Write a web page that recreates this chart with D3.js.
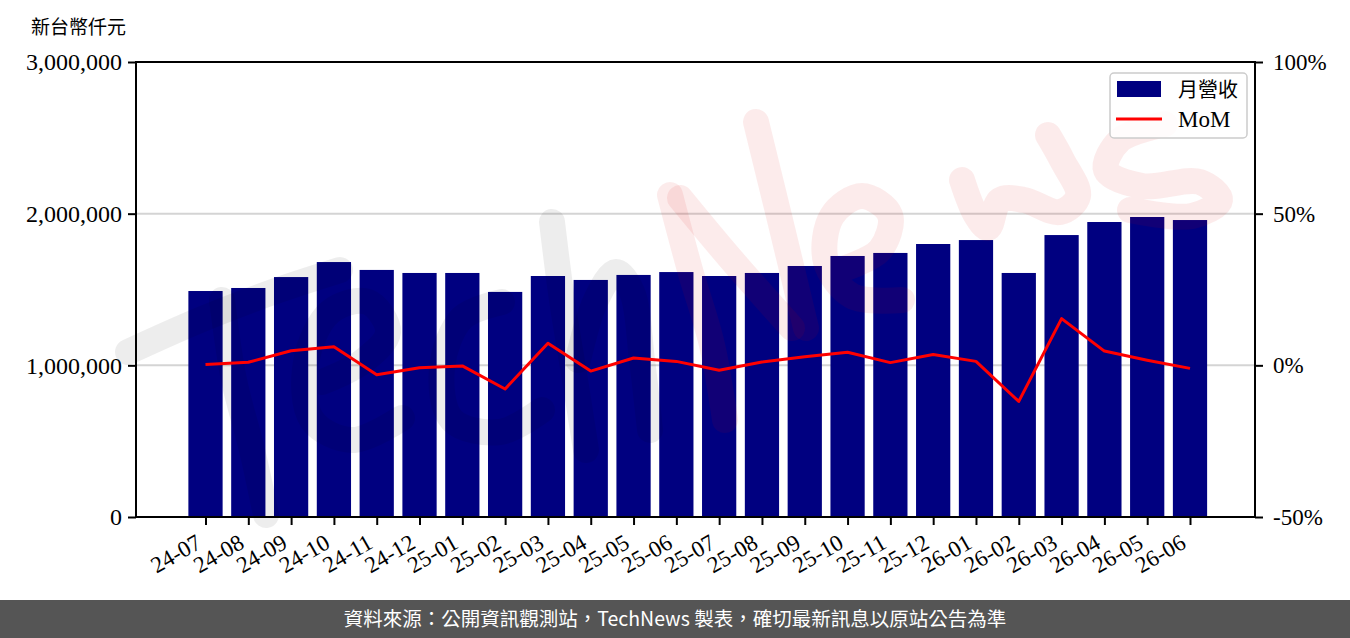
<!DOCTYPE html>
<html>
<head>
  <meta charset="utf-8">
  <title>月營收與 MoM</title>
  <style>
  body {
    margin: 0px;
    background: #fff;
  }
  </style>
</head>
<body>
  <svg width="1350" height="638"></svg>
  <script src="https://d3js.org/d3.v7.min.js"></script>
  <script>
  // data
  var months = ["24-07", "24-08", "24-09", "24-10", "24-11", "24-12",
    "25-01", "25-02", "25-03", "25-04", "25-05", "25-06",
    "25-07", "25-08", "25-09", "25-10", "25-11", "25-12",
    "26-01", "26-02", "26-03", "26-04", "26-05", "26-06"];
  var revenue = [1490000, 1510000, 1582000, 1681000, 1629000, 1609000,
    1609000, 1484000, 1589000, 1563000, 1596000, 1615000,
    1589000, 1609000, 1655000, 1721000, 1741000, 1800000,
    1826000, 1609000, 1859000, 1945000, 1978000, 1958000];
  var mom = [0.3, 1.0, 4.8, 6.1, -3.1, -0.8,
    -0.2, -7.8, 7.3, -1.9, 2.4, 1.3,
    -1.6, 1.1, 2.8, 4.3, 0.9, 3.6,
    1.3, -11.9, 15.4, 4.7, 1.7, -1.0];
  var leftTicks = [0, 1000000, 2000000, 3000000];
  var rightTicks = [-50, 0, 50, 100];

  var svg = d3.select("svg");
  var plotL = 136, plotR = 1255, plotT = 62, plotB = 517;

  var x = d3.scaleLinear().domain([0, months.length - 1]).range([205.5, 1190]);
  var step = x(1) - x(0);
  var y = d3.scaleLinear().domain([0, 3000000]).range([plotB, plotT]);
  var y2 = d3.scaleLinear().domain([-50, 100]).range([plotB, plotT]);

  // title
  svg.append("text")
    .attr("x", 31)
    .attr("y", 34)
    .attr("font-family", "'Noto Sans CJK TC', sans-serif")
    .attr("font-size", 19)
    .text("新台幣仟元");

  // grid
  svg.append("g")
    .selectAll("line")
    .data(leftTicks.slice(1, 3))
    .enter()
    .append("line")
    .attr("x1", plotL)
    .attr("x2", plotR)
    .attr("y1", function(d) { return y(d); })
    .attr("y2", function(d) { return y(d); })
    .attr("stroke", "#d4d4d4")
    .attr("stroke-width", 2);

  // bars
  svg.append("g")
    .selectAll("rect")
    .data(revenue)
    .enter()
    .append("rect")
    .attr("x", function(d, i) { return x(i) - step * 0.4; })
    .attr("width", step * 0.8)
    .attr("y", function(d) { return y(d); })
    .attr("height", function(d) { return plotB - y(d); })
    .attr("fill", "#000080");

  // watermark (handwritten TechNews, faint)
  var wm = svg.append("g").attr("fill", "none")
    .attr("stroke-linecap", "round").attr("stroke-linejoin", "round")
    .attr("stroke-width", 26);
  var stroke = d3.line().curve(d3.curveCatmullRom);
  var grayStrokes = [
    [[128, 352], [200, 320], [270, 293], [340, 270]],
    [[222, 300], [234, 380], [252, 450], [266, 515]],
    [[322, 382], [362, 362], [388, 332], [368, 302], [330, 312], [306, 362], [312, 420], [352, 440], [402, 418]],
    [[502, 302], [462, 318], [442, 368], [452, 420], [500, 432], [542, 410]],
    [[552, 222], [562, 300], [575, 380], [586, 450]],
    [[578, 360], [596, 300], [616, 272], [632, 292], [642, 360], [650, 430]]
  ];
  var pinkStrokes = [
    [[670, 195], [690, 270], [712, 345], [725, 420]],
    [[680, 198], [730, 258], [792, 328]],
    [[756, 122], [780, 220], [806, 328]],
    [[840, 270], [880, 250], [890, 215], [862, 196], [832, 216], [826, 262], [852, 296], [902, 300]],
    [[962, 180], [976, 215], [988, 228], [1000, 200], [1024, 200], [1060, 212], [1078, 196], [1062, 160], [1048, 135]],
    [[1165, 124], [1120, 140], [1106, 170], [1142, 186], [1200, 182], [1220, 200], [1192, 216], [1130, 210]]
  ];
  wm.selectAll(".wm-gray").data(grayStrokes).enter().append("path")
    .attr("class", "wm-gray")
    .attr("d", stroke)
    .attr("stroke", "rgba(0,0,0,0.07)");
  wm.selectAll(".wm-pink").data(pinkStrokes).enter().append("path")
    .attr("class", "wm-pink")
    .attr("d", stroke)
    .attr("stroke", "rgba(220,0,0,0.08)");

  // MoM line
  svg.append("path")
    .datum(mom)
    .attr("fill", "none")
    .attr("stroke", "#ff0000")
    .attr("stroke-width", 3)
    .attr("stroke-linejoin", "round")
    .attr("d", d3.line()
      .x(function(d, i) { return x(i); })
      .y(function(d) { return y2(d); }));

  // axes
  var fmt = d3.format(",");
  var leftAxis = svg.append("g")
    .attr("transform", "translate(" + plotL + ",0)")
    .call(d3.axisLeft(y).tickValues(leftTicks).tickFormat(fmt).tickSizeOuter(0).tickSize(8).tickPadding(6));
  var rightAxis = svg.append("g")
    .attr("transform", "translate(" + plotR + ",0)")
    .call(d3.axisRight(y2).tickValues(rightTicks).tickFormat(function(d) { return d + "%"; })
      .tickSizeOuter(0).tickSize(8).tickPadding(10));
  var bottomAxis = svg.append("g")
    .attr("transform", "translate(0," + plotB + ")")
    .call(d3.axisBottom(x).tickValues(d3.range(months.length))
      .tickFormat(function(i) { return months[i]; }).tickSizeOuter(0).tickSize(8));

  [leftAxis, rightAxis, bottomAxis].forEach(function(a) {
    a.select(".domain").remove();
    a.selectAll(".tick line").attr("stroke", "#000").attr("stroke-width", 2);
    a.selectAll(".tick text")
      .attr("fill", "#000")
      .attr("font-size", 23)
      .attr("font-family", "'Liberation Serif', serif");
  });
  leftAxis.selectAll(".tick text").attr("font-size", 24);

  bottomAxis.selectAll(".tick text")
    .attr("font-size", 23)
    .attr("y", 0)
    .attr("dy", 0)
    .attr("text-anchor", "end")
    .attr("transform", "translate(-3,30) rotate(-30)");

  // frame
  svg.append("rect")
    .attr("x", plotL)
    .attr("y", plotT)
    .attr("width", plotR - plotL)
    .attr("height", plotB - plotT)
    .attr("fill", "none")
    .attr("stroke", "#000")
    .attr("stroke-width", 2);

  // legend
  var lg = svg.append("g");
  lg.append("rect")
    .attr("x", 1110).attr("y", 73)
    .attr("width", 137).attr("height", 65)
    .attr("rx", 4)
    .attr("fill", "rgba(255,255,255,0.85)")
    .attr("stroke", "#cccccc")
    .attr("stroke-width", 1.5);
  lg.append("rect")
    .attr("x", 1117).attr("y", 81)
    .attr("width", 44).attr("height", 16)
    .attr("fill", "#000080");
  lg.append("line")
    .attr("x1", 1116).attr("x2", 1162)
    .attr("y1", 119).attr("y2", 119)
    .attr("stroke", "#ff0000")
    .attr("stroke-width", 3);
  lg.append("text")
    .attr("x", 1178).attr("y", 97)
    .attr("font-family", "'Noto Sans CJK TC', sans-serif")
    .attr("font-size", 20)
    .text("月營收");
  lg.append("text")
    .attr("x", 1178).attr("y", 127)
    .attr("font-family", "'Liberation Serif', serif")
    .attr("font-size", 23)
    .text("MoM");

  // footer
  svg.append("rect")
    .attr("x", 0).attr("y", 600)
    .attr("width", 1350).attr("height", 38)
    .attr("fill", "#555555");
  svg.append("text")
    .attr("x", 675).attr("y", 626)
    .attr("text-anchor", "middle")
    .attr("fill", "#ffffff")
    .attr("font-family", "'Noto Sans CJK TC', sans-serif")
    .attr("font-size", 19.5)
    .text("資料來源：公開資訊觀測站，TechNews 製表，確切最新訊息以原站公告為準");
  </script>
</body>
</html>
